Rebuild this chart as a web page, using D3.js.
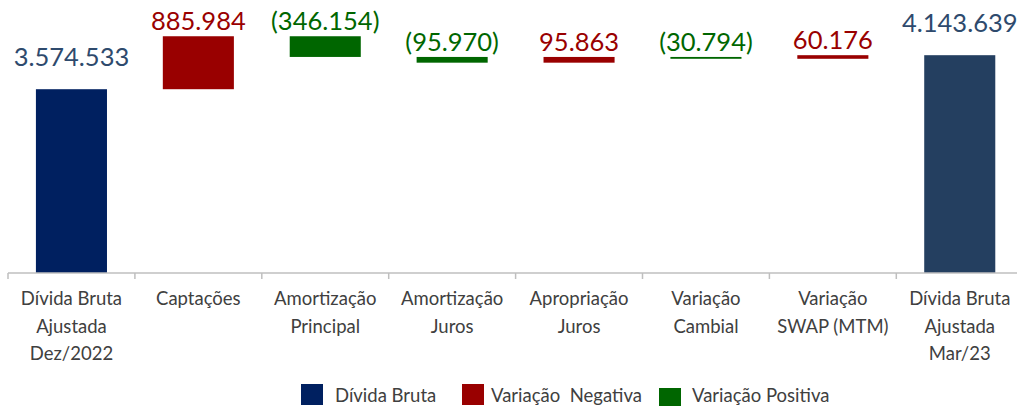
<!DOCTYPE html>
<html>
<head>
<meta charset="utf-8">
<script src="https://cdn.jsdelivr.net/npm/d3@7"></script>
<style>
  html, body { margin: 0; padding: 0; background: #fff; }
  svg { display: block; font-family: Lato, "Open Sans", sans-serif; }
</style>
</head>
<body>
<div id="chart"></div>
<script>
(() => {
	// waterfall data
	const categories = [
		'Dívida Bruta\nAjustada\nDez/2022',
		'Captações',
		'Amortização\nPrincipal',
		'Amortização\nJuros',
		'Apropriação\nJuros',
		'Variação\nCambial',
		'Variação\nSWAP (MTM)',
		'Dívida Bruta\nAjustada\nMar/23'
	];
	const values = [3574533, 885984, -346154, -95970, 95863, -30794, 60176, 4143639];
	const isTotal = [true, false, false, false, false, false, false, true];
	const legendLabels = ['Dívida Bruta', 'Variação  Negativa', 'Variação Positiva'];
	const yDomain = [500000, 5000000];

	const width = 1017;
	const height = 410;
	const axisY = 273;
	const step = 126.9;
	const left = 8;

	const colors = {
		total0: '#002060',
		total1: '#243F60',
		totalText: '#2E4A6D',
		neg: '#990000',
		pos: '#006600',
		axis: '#BFBFBF',
		text: '#404040'
	};

	const svg = d3.select('#chart')
		.append('svg')
		.attr('width', width)
		.attr('height', height);

	const x = d3.scaleBand()
		.domain(categories)
		.range([left, left + step * categories.length])
		.paddingInner(0.44)
		.paddingOuter(0.22);

	const y = d3.scaleLinear().domain(yDomain).range([axisY, 4]);

	// build running totals
	let run = 0;
	const rows = categories.map((c, i) => {
		const v = values[i];
		let y0, y1, kind;
		if (isTotal[i]) {
			y0 = yDomain[0];
			y1 = v;
			run = v;
			kind = 'total';
		} else {
			y0 = run;
			y1 = run + v;
			run = y1;
			kind = v > 0 ? 'neg' : 'pos';
		}
		return { c, v, i, lo: Math.min(y0, y1), hi: Math.max(y0, y1), kind };
	});

	const fillOf = d => d.kind === 'total' ? (d.i === 0 ? colors.total0 : colors.total1) : colors[d.kind];
	const textOf = d => d.kind === 'total' ? colors.totalText : colors[d.kind];

	svg.append('g')
		.selectAll('rect')
		.data(rows)
		.join('rect')
		.attr('x', d => x(d.c))
		.attr('width', x.bandwidth())
		.attr('y', d => y(d.hi))
		.attr('height', d => Math.max(1.5, y(d.lo) - y(d.hi)))
		.attr('fill', d => fillOf(d));

	// value labels
	const loc = d3.formatLocale({ decimal: ',', thousands: '.', grouping: [3], currency: ['', ''] });
	const fmt = loc.format(',d');
	const labelText = d => d.v < 0 ? `(${fmt(-d.v)})` : fmt(d.v);

	svg.append('g')
		.selectAll('text')
		.data(rows)
		.join('text')
		.attr('x', d => x(d.c) + x.bandwidth() / 2)
		.attr('y', d => y(d.hi) - (d.kind === 'total' ? 23 : 6))
		.attr('text-anchor', 'middle')
		.attr('font-size', 25.5)
		.attr('fill', d => textOf(d))
		.text(d => labelText(d));

	// axis line + boundary ticks
	const axis = svg.append('g');
	axis.append('line')
		.attr('x1', left).attr('x2', width)
		.attr('y1', axisY).attr('y2', axisY)
		.attr('stroke', colors.axis).attr('stroke-width', 1.5);
	const bounds = d3.range(categories.length).map(i => x(categories[i]) - x.step() * x.paddingOuter());
	axis.selectAll('line.tick')
		.data(bounds)
		.join('line')
		.attr('class', 'tick')
		.attr('x1', d => d).attr('x2', d => d)
		.attr('y1', axisY).attr('y2', axisY + 6)
		.attr('stroke', colors.axis).attr('stroke-width', 1.5);

	// category labels
	const cat = svg.append('g')
		.selectAll('text')
		.data(categories)
		.join('text')
		.attr('text-anchor', 'middle')
		.attr('font-size', 18.5)
		.attr('fill', colors.text);
	cat.each(function (c) {
		const t = d3.select(this);
		c.split('\n').forEach((line, k) => {
			t.append('tspan')
				.attr('x', x(c) + x.bandwidth() / 2)
				.attr('y', 305 + k * 27.7)
				.text(line);
		});
	});

	// legend (Excel-style spacing, uneven)
	const legendColors = [colors.total0, colors.neg, colors.pos];
	const legendX = [301, 462, 659];
	const legendTextGap = [12, 7, 11];
	const legendBoxY = [384, 384, 388];
	const lg = svg.append('g');
	legendLabels.forEach((name, i) => {
		lg.append('rect')
			.attr('x', legendX[i]).attr('y', legendBoxY[i])
			.attr('width', 22).attr('height', i === 2 ? 18 : 21)
			.attr('fill', legendColors[i]);
		lg.append('text')
			.attr('x', legendX[i] + 22 + legendTextGap[i]).attr('y', 402)
			.attr('font-size', 18.5)
			.attr('fill', colors.text)
			.style('white-space', 'pre')
			.text(name);
	});
})();
</script>
</body>
</html>
